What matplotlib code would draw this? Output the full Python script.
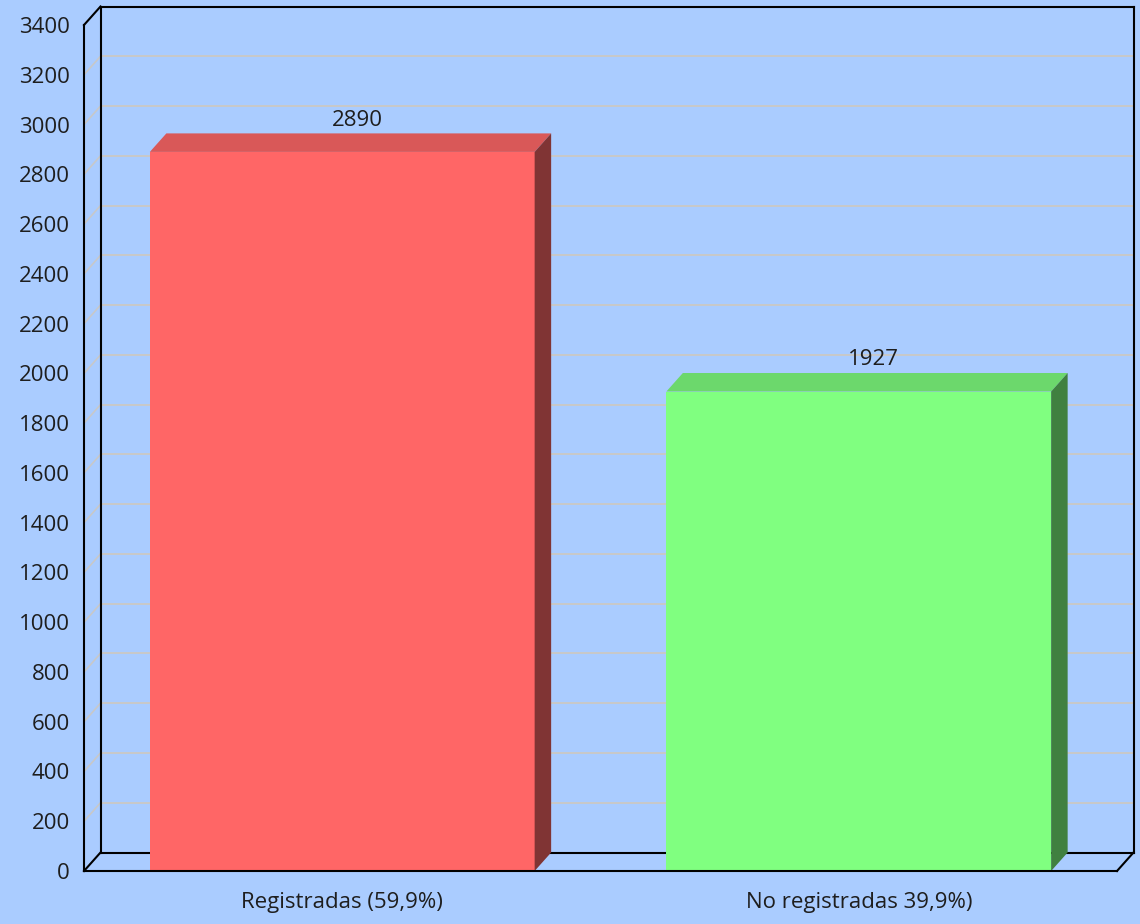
import matplotlib
matplotlib.use("Agg")
import matplotlib.pyplot as plt
from matplotlib import font_manager
from matplotlib.patches import Polygon

categories = ['Registradas (59,9%)', 'No registradas 39,9%)']
values = [2890, 1927]
yticks = list(range(0, 3401, 200))

front_colors = ['#ff6666', '#80ff80']
top_colors = ['#d95858', '#6cd86c']
side_colors = ['#803434', '#408040']
bg = '#aaccff'
grid_c = '#c8c8c8'

# pick a narrow font if we have one
have = {f.name for f in font_manager.fontManager.ttflist}
fsize = 17
for name, size in [('Liberation Sans Narrow', 17), ('DejaVu Sans Condensed', 15.5), ('Open Sans', 16)]:
    if name in have:
        font, fsize = name, size
        break
else:
    font = 'DejaVu Sans'
plt.rcParams['font.family'] = [font, 'DejaVu Sans']

W, H = 1140, 924
fig = plt.figure(figsize=(W / 100, H / 100), dpi=100, facecolor=bg)
left, right, top, bottom = 84, 1117, 25, 871
ax = fig.add_axes([left / W, (H - bottom) / H, (right - left) / W, (bottom - top) / H])
ax.set_xlim(-0.5, 1.5)
ax.set_ylim(0, 3400)
ax.patch.set_alpha(0)
for s in ax.spines.values():
    s.set_visible(False)

# depth of the fake 3d box, in data units
DX = 16.5 * 2.0 / (right - left)
DY = 18.5 * 3400.0 / (bottom - top)
x0, x1 = -0.5, 1.5

# back wall grid + left wall diagonals
for v in yticks[1:-1]:
    ax.plot([x0 + DX, x1 + DX], [v + DY, v + DY], color=grid_c, lw=1.4, zorder=1, clip_on=False)
    ax.plot([x0, x0 + DX], [v, v + DY], color=grid_c, lw=1.2, zorder=1, clip_on=False)

# frame lines behind the bars
k = dict(color='black', lw=1.5, clip_on=False, solid_capstyle='projecting')
ax.plot([x0 + DX, x1 + DX], [DY, DY], zorder=2, **k)            # floor back
ax.plot([x0 + DX, x0 + DX], [DY, 3400 + DY], zorder=2, **k)     # back wall left
ax.plot([x0 + DX, x1 + DX], [3400 + DY, 3400 + DY], zorder=2, **k)
ax.plot([x1 + DX, x1 + DX], [DY, 3400 + DY], zorder=2, **k)     # back wall right
ax.plot([x1, x1 + DX], [0, DY], zorder=2, **k)

# bars
bw = 0.745
xs = list(range(len(values)))
ax.bar(xs, values, width=bw, color=front_colors, zorder=4)
for x, v, tc, sc in zip(xs, values, top_colors, side_colors):
    l, r = x - bw / 2, x + bw / 2
    ax.add_patch(Polygon([(l, v), (r, v), (r + DX, v + DY), (l + DX, v + DY)],
                         closed=True, fc=tc, ec='none', zorder=4, clip_on=False))
    ax.add_patch(Polygon([(r, 0), (r + DX, DY), (r + DX, v + DY), (r, v)],
                         closed=True, fc=sc, ec='none', zorder=4, clip_on=False))
    ax.annotate(str(v), (x + DX * 0.9, v + DY), xytext=(0, 2), textcoords='offset points',
                ha='center', va='bottom', fontsize=fsize, color='#1e1e1e', zorder=6)

# front lines on top
ax.plot([x0, x1], [0, 0], zorder=5, **k)
ax.plot([x0, x0], [0, 3400], zorder=5, **k)
ax.plot([x0, x0 + DX], [0, DY], zorder=5, **k)
ax.plot([x0, x0 + DX], [3400, 3400 + DY], zorder=5, **k)

ax.set_yticks(yticks)
ax.set_yticklabels([str(t) for t in yticks])
ax.set_xticks(xs)
ax.set_xticklabels(categories)
ax.tick_params(axis='y', length=0, pad=10, labelsize=fsize, labelcolor='#1e1e1e')
ax.tick_params(axis='x', length=0, pad=15, labelsize=fsize, labelcolor='#1e1e1e')

fig.savefig('out.png', dpi=100, facecolor=bg)
